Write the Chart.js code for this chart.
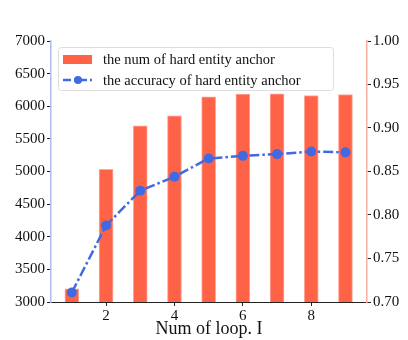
<!DOCTYPE html>
<html>
<head>
<meta charset="utf-8">
<script src="https://cdn.jsdelivr.net/npm/chart.js@4"></script>
<style>
  html, body { margin: 0; padding: 0; background: #fff; }
  #wrap { width: 408px; height: 340px; }
</style>
</head>
<body>
<div id="wrap"><canvas id="myChart" width="408" height="340"></canvas></div>
<script>
const loops = [1, 2, 3, 4, 5, 6, 7, 8, 9];
const hardNum = [3200, 5035, 5700, 5855, 6145, 6185, 6190, 6165, 6180];
const hardAcc = [0.711, 0.788, 0.828, 0.844, 0.865, 0.868, 0.870, 0.873, 0.872];
const xTicks = [2, 4, 6, 8];
const seriesNames = ['the num of hard entity anchor', 'the accuracy of hard entity anchor'];

const FONT = 'Liberation Serif';
const RED = '#ff6347';
const BLUE = '#4169e1';

// legend drawn inside the plot, matplotlib style
const boxLegend = {
  id: 'boxLegend',
  afterDraw(chart) {
    const c = chart.ctx;
    const a = chart.chartArea;
    const x = a.left + 7, y = a.top + 6, w = 275, h = 43;
    c.save();
    c.fillStyle = 'rgba(255,255,255,0.85)';
    c.strokeStyle = '#dddddd';
    c.lineWidth = 1;
    c.beginPath();
    c.roundRect(x + 0.5, y + 0.5, w, h, 3);
    c.fill();
    c.stroke();
    // bar marker
    c.fillStyle = RED;
    c.fillRect(x + 5, y + 8, 29, 9);
    // line marker
    c.strokeStyle = BLUE;
    c.lineWidth = 2.5;
    c.setLineDash([8, 3, 2, 3]);
    c.beginPath();
    c.moveTo(x + 5, y + 33);
    c.lineTo(x + 34, y + 33);
    c.stroke();
    c.setLineDash([]);
    c.fillStyle = BLUE;
    c.beginPath();
    c.arc(x + 20, y + 33, 4, 0, Math.PI * 2);
    c.fill();
    c.fillStyle = '#111';
    c.font = '14.5px "' + FONT + '"';
    c.textBaseline = 'middle';
    c.fillText(seriesNames[0], x + 45, y + 13);
    c.fillText(seriesNames[1], x + 45, y + 34);
    c.restore();
  }
};

const ctx = document.getElementById('myChart');
const grafico = new Chart(ctx, {
  data: {
    datasets: [{
      type: 'line',
      label: seriesNames[1],
      data: loops.map((l, i) => ({ x: l, y: hardAcc[i] })),
      yAxisID: 'y1',
      borderColor: BLUE,
      backgroundColor: BLUE,
      borderWidth: 2.5,
      borderDash: [10, 3, 2.5, 3],
      pointRadius: 5,
      pointHoverRadius: 5,
      pointBorderWidth: 0,
      tension: 0
    }, {
      type: 'bar',
      label: seriesNames[0],
      data: loops.map((l, i) => ({ x: l, y: hardNum[i] })),
      yAxisID: 'y',
      backgroundColor: RED,
      borderColor: '#ffa898',
      borderWidth: { left: 1, right: 1, top: 1, bottom: 0 },
      barThickness: 14
    }]
  },
  options: {
    responsive: false,
    animation: false,
    layout: { padding: { top: 41, right: 0, left: 0, bottom: 0 } },
    plugins: { legend: { display: false }, tooltip: { enabled: false } },
    scales: {
      x: {
        type: 'linear',
        offset: false,
        min: 0.39,
        max: 9.63,
        afterBuildTicks: s => { s.ticks = xTicks.map(v => ({ value: v })); },
        afterFit: s => { s.height = 38; },
        border: { color: '#222', width: 1 },
        grid: { display: true, drawOnChartArea: false, offset: false, tickLength: 4, color: '#222' },
        ticks: { color: '#111', font: { family: FONT, size: 15 }, padding: 1 },
        title: { display: true, text: 'Num of loop. I', color: '#111', font: { family: FONT, size: 18 }, padding: { top: -3, bottom: 0 } }
      },
      y: {
        position: 'left',
        min: 3000,
        max: 7000,
        afterFit: s => { s.width = 51; },
        border: { color: '#aebcf0', width: 1.5 },
        grid: { display: true, drawOnChartArea: false, tickLength: 4, color: '#222' },
        ticks: { stepSize: 500, color: '#111', font: { family: FONT, size: 15 }, padding: 2,
                 callback: v => String(v) }
      },
      y1: {
        position: 'right',
        min: 0.70,
        max: 1.00,
        afterFit: s => { s.width = 41; },
        border: { color: '#f6b0a4', width: 1.5 },
        grid: { display: true, drawOnChartArea: false, tickLength: 4, color: '#222' },
        ticks: { stepSize: 0.05, color: '#111', font: { family: FONT, size: 15 }, padding: 2,
                 callback: v => v.toFixed(2) }
      }
    }
  },
  plugins: [boxLegend]
});
</script>
</body>
</html>
